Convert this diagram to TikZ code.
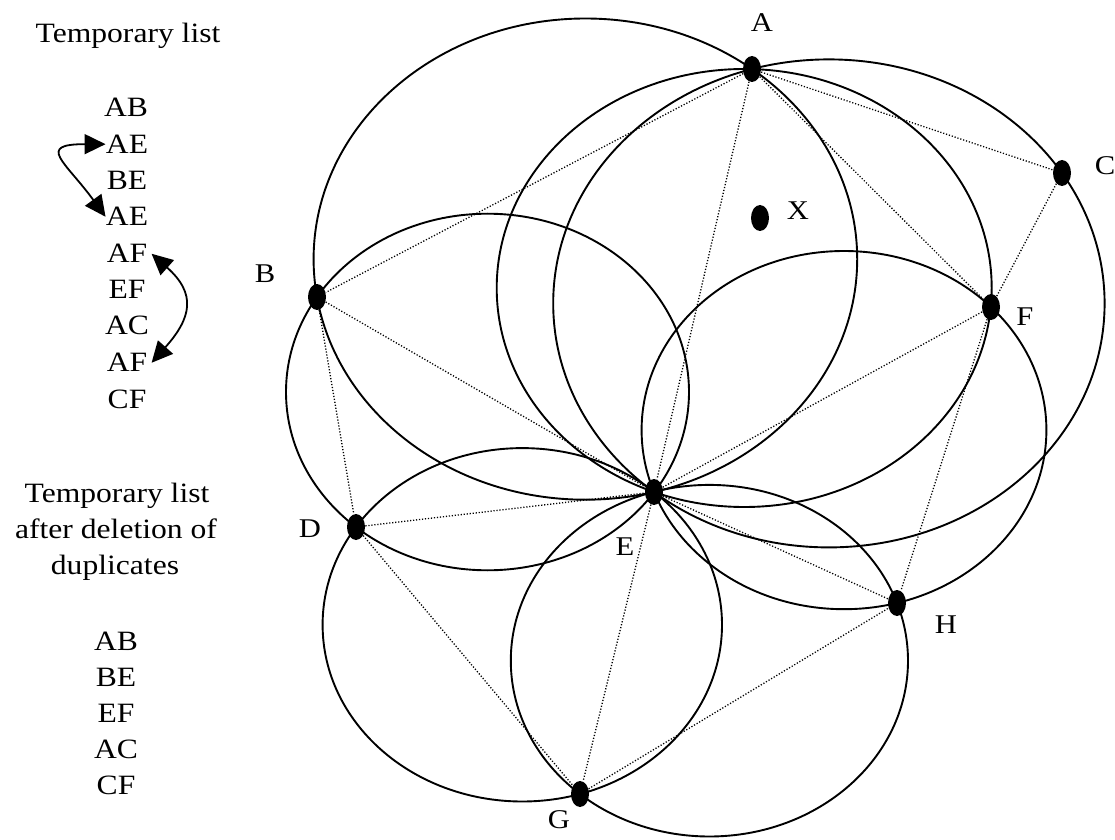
\documentclass[tikz,border=0pt]{standalone}
\usepackage{fontspec}
\setmainfont{Liberation Serif}
\usetikzlibrary{shapes.geometric,arrows.meta}
\begin{document}
\begin{tikzpicture}[x=0.5pt,y=-0.5pt,
  circ/.style={line width=0.95pt},
  triedge/.style={line width=0.65pt, dash pattern=on 0.6pt off 0.9pt},
  vtx/.style={ellipse, fill=black, draw=none, inner sep=0pt, minimum width=9pt, minimum height=13pt},
  lbl/.style={font=\fontsize{15.3}{18}\selectfont, inner sep=0pt, anchor=base, yscale=0.885},
  lst/.style={font=\fontsize{15.8}{18}\selectfont, inner sep=0pt, anchor=base, yscale=0.885},
  swaparrow/.style={line width=0.9pt, {Triangle[length=10.5pt,width=10pt]}-{Triangle[length=10.5pt,width=10pt]}}
]
\useasboundingbox (0,0) rectangle (1115,840);

% circumcircles of the triangles
\draw[circ] (585.4,259.1) ellipse [x radius=271.8, y radius=240.6]; % ABE
\draw[circ] (744.2,288.0) ellipse [x radius=247.5, y radius=219.0]; % AEF
\draw[circ] (828.9,303.4) ellipse [x radius=275.7, y radius=244.0]; % ACE
\draw[circ] (487.5,392.0) ellipse [x radius=201.5, y radius=178.3]; % BDE
\draw[circ] (522.3,624.8) ellipse [x radius=199.7, y radius=176.7]; % DEG
\draw[circ] (709.4,660.7) ellipse [x radius=198.6, y radius=175.8]; % EGH
\draw[circ] (844.0,430.1) ellipse [x radius=202.4, y radius=179.1]; % EFH

% points
\node[vtx] (A) at (752,69) {};
\node[vtx] (B) at (317,297) {};
\node[vtx] (C) at (1062,173) {};
\node[vtx] (D) at (356,527) {};
\node[vtx] (E) at (654,492) {};
\node[vtx] (F) at (991,307) {};
\node[vtx] (G) at (580,794) {};
\node[vtx] (H) at (897,603) {};
\node[vtx] (X) at (760,218) {};

% triangulation edges
\draw[triedge] (A) -- (B);
\draw[triedge] (A) -- (E);
\draw[triedge] (A) -- (C);
\draw[triedge] (A) -- (F);
\draw[triedge] (C) -- (F);
\draw[triedge] (B) -- (E);
\draw[triedge] (B) -- (D);
\draw[triedge] (D) -- (E);
\draw[triedge] (D) -- (G);
\draw[triedge] (E) -- (G);
\draw[triedge] (E) -- (F);
\draw[triedge] (E) -- (H);
\draw[triedge] (F) -- (H);
\draw[triedge] (G) -- (H);

% point labels
\node[lbl] (tA) at (762,32) {A};
\node[lbl] (tX) at (798,220) {X};
\node[lbl] (tC) at (1105,175) {C};
\node[lbl] (tB) at (265,283) {B};
\node[lbl] (tD) at (310,537) {D};
\node[lbl] (tE) at (625,555) {E};
\node[lbl] (tF) at (1025,325) {F};
\node[lbl] (tG) at (559,828) {G};
\node[lbl] (tH) at (946,633) {H};

% temporary list
\node[lst] (h1) at (128,43) {Temporary list};
\node[lst] (la1) at (126,117) {AB};
\node[lst] (la2) at (127,153.4) {AE};
\node[lst] (la3) at (127,190) {BE};
\node[lst] (la4) at (127,226) {AE};
\node[lst] (la5) at (127,263) {AF};
\node[lst] (la6) at (127,299) {EF};
\node[lst] (la7) at (127,335) {AC};
\node[lst] (la8) at (127,372) {AF};
\node[lst] (la9) at (127,408) {CF};

% duplicate pairs
\draw[swaparrow] (la2.west) .. controls +(-70,0) and +(-40,-55) .. (la4.west);
\draw[swaparrow] ([xshift=2pt]la5.east) .. controls +(45,40) and +(40,-45) .. ([xshift=2pt]la8.east);

% list after deletion of duplicates
\node[lst] (h2) at (117,502) {Temporary list};
\node[lst] (h3) at (116,538) {after deletion of};
\node[lst] (h4) at (115,574) {duplicates};
\node[lst] (lb1) at (116,650) {AB};
\node[lst] (lb2) at (116,686) {BE};
\node[lst] (lb3) at (116,722) {EF};
\node[lst] (lb4) at (116,758) {AC};
\node[lst] (lb5) at (116,794) {CF};
\end{tikzpicture}
\end{document}
